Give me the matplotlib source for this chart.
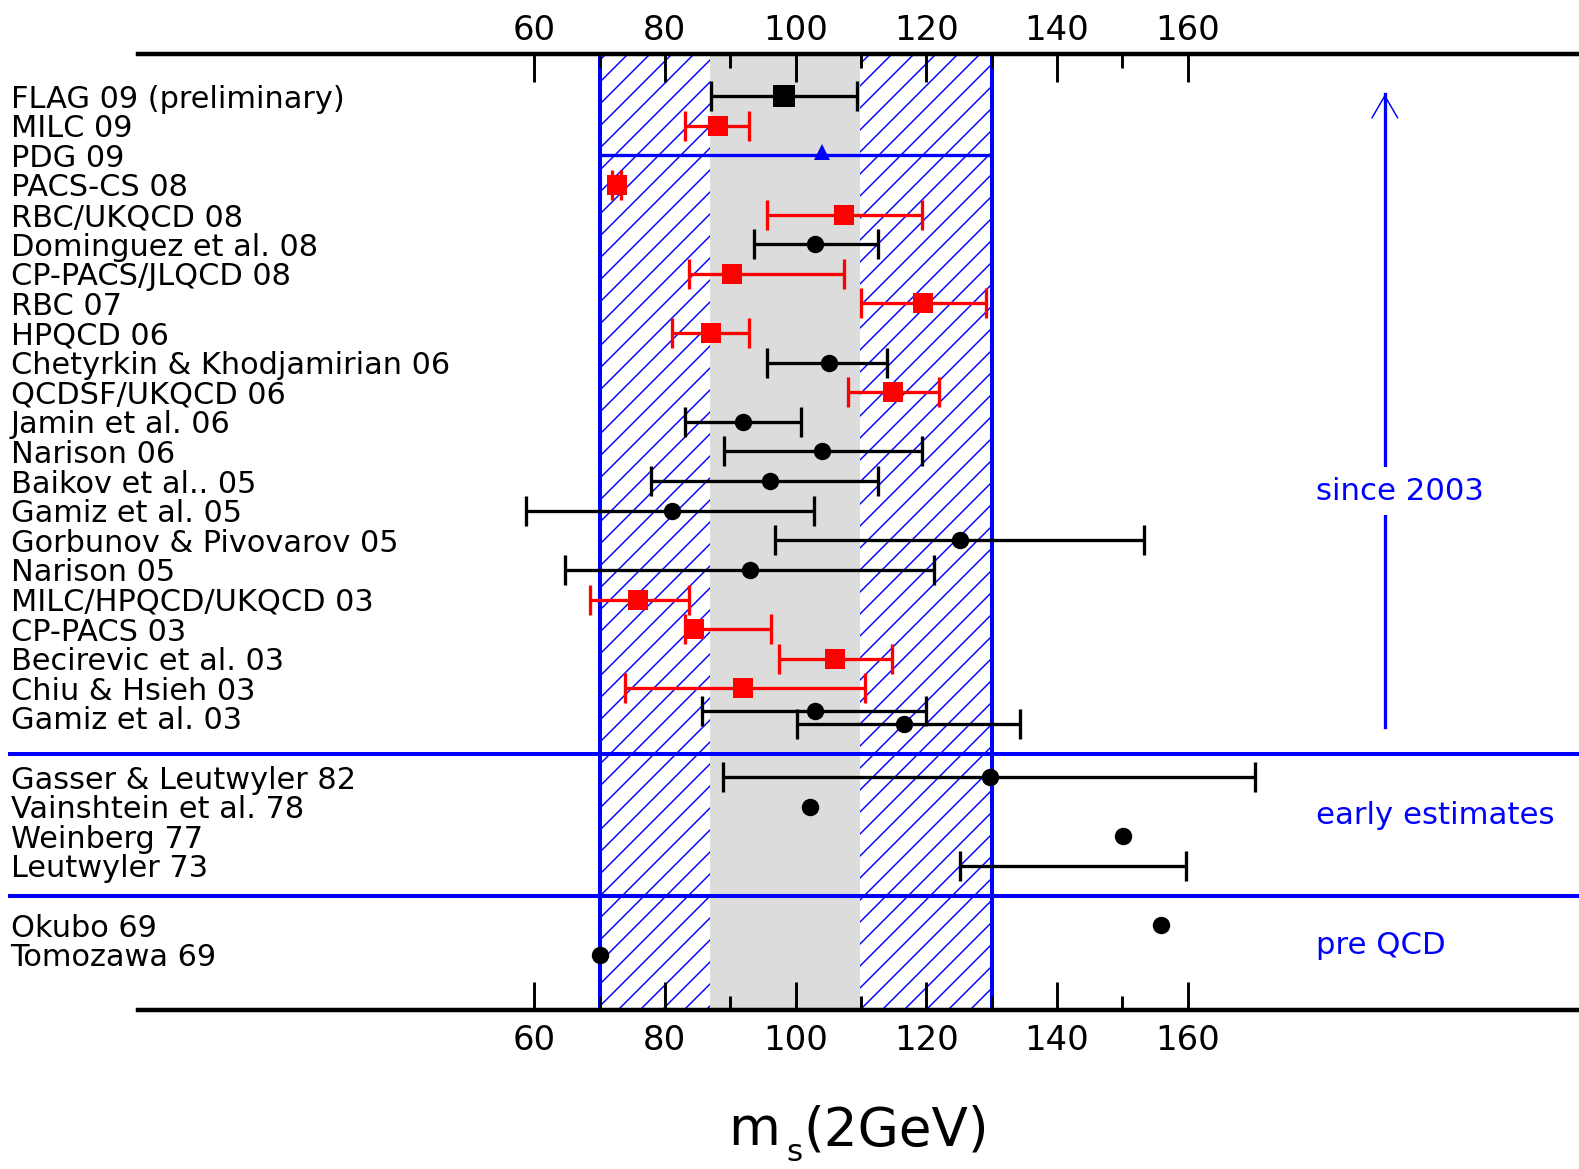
import numpy as np
import matplotlib.pyplot as plt
from matplotlib.transforms import blended_transform_factory

DPI = 132  # with '//' this gives the ~22 px hatch spacing of the original
plt.rcParams['hatch.linewidth'] = 0.8
plt.rcParams['font.family'] = ['DejaVu Sans']

# entries, top to bottom (row = slot index on the y axis)
labels = ['FLAG 09 (preliminary)', 'MILC 09', 'PDG 09', 'PACS-CS 08', 'RBC/UKQCD 08',
          'Dominguez et al. 08', 'CP-PACS/JLQCD 08', 'RBC 07', 'HPQCD 06',
          'Chetyrkin & Khodjamirian 06', 'QCDSF/UKQCD 06', 'Jamin et al. 06', 'Narison 06',
          'Baikov et al.. 05', 'Gamiz et al. 05', 'Gorbunov & Pivovarov 05', 'Narison 05',
          'MILC/HPQCD/UKQCD 03', 'CP-PACS 03', 'Becirevic et al. 03', 'Chiu & Hsieh 03',
          'Gamiz et al. 03', 'Gasser & Leutwyler 82', 'Vainshtein et al. 78', 'Weinberg 77',
          'Leutwyler 73', 'Okubo 69', 'Tomozawa 69']
label_rows = list(range(22)) + [23, 24, 25, 26, 28, 29]

# FLAG average
flag_row, flag_val, flag_lo, flag_hi = 0, 98.2, 87.1, 109.4

# PDG 09 range and central value
pdg_row, pdg_val, pdg_lo, pdg_hi = 2, 104.0, 70.0, 130.0

# lattice results (red squares)
lat_row = [1, 3, 4, 6, 7, 8, 10, 17, 18, 19, 20]
lat_val = [88.1, 72.7, 107.4, 90.3, 119.5, 87.0, 114.9, 75.9, 84.4, 106.1, 91.9]
lat_lo = [83.1, 71.9, 95.6, 83.7, 110.0, 81.1, 108.0, 68.6, 83.1, 97.5, 73.9]
lat_hi = [92.9, 73.3, 119.3, 107.4, 129.1, 92.9, 121.9, 83.7, 96.3, 114.7, 110.7]

# sum rules / other (black circles with error bars)
oth_row = [5, 9, 11, 12, 13, 14, 15, 16, 20.78, 21.2, 23]
oth_val = [103.0, 105.1, 92.0, 104.0, 96.1, 81.1, 125.1, 93.0, 103.0, 116.6, 129.7]
oth_lo = [93.6, 95.6, 83.1, 89.0, 77.9, 58.8, 96.9, 64.7, 85.7, 100.2, 88.9]
oth_hi = [112.6, 114.0, 100.9, 119.3, 112.6, 102.8, 153.4, 121.2, 119.9, 134.3, 170.4]

# estimates without error bars
bare_row = [24, 25, 28, 29]
bare_val = [102.2, 150.1, 156.0, 70.0]

# range only (Leutwyler 73)
range_row, range_lo, range_hi = 26, 125.1, 159.8

hatch_band = (70.0, 130.0)
grey_band = (86.9, 109.8)
group_breaks = [22.22, 27.0]
group_names = ['since 2003', 'early estimates', 'pre QCD']
group_y = [13.62, 24.58, 28.96]
major_ticks = [60, 80, 100, 120, 140, 160]
minor_ticks = [70, 90, 110, 130, 150]

W, H = 1579, 1169
fig = plt.figure(figsize=((W + 0.5) / DPI, (H + 0.5) / DPI), dpi=DPI)
ax = fig.add_axes([138 / W, 1 - 1010 / H, 1 - 138 / W, (1010 - 54) / H])
ax.set_xlim(-0.64, 220.0)
ax.set_ylim(30.86, -1.44)

# bands
ax.axvspan(*hatch_band, facecolor='white', edgecolor='blue', hatch='//', linewidth=0, zorder=0.5)
ax.axvspan(*grey_band, facecolor='#dcdcdc', edgecolor='none', zorder=0.6)
for xv in hatch_band:
    ax.axvline(xv, color='blue', lw=2.2, zorder=1)

# group separators running across the label column
tr_fig = blended_transform_factory(fig.transFigure, ax.transData)
for yb in group_breaks:
    ax.plot([10 / W, 1], [yb, yb], transform=tr_fig, color='blue', lw=2.2,
            clip_on=False, zorder=1.1)

# PDG
ax.hlines(pdg_row, pdg_lo, pdg_hi, colors='blue', lw=1.8, zorder=1.2)
ax.plot(pdg_val, pdg_row - 0.12, '^', color='blue', ms=8.5, markeredgewidth=0, zorder=3)


def bars(val, row, lo, hi, color):
    val = np.atleast_1d(np.asarray(val, float))
    err = [val - np.asarray(lo, float), np.asarray(hi, float) - val]
    ax.errorbar(val, row, xerr=err, fmt='none', ecolor=color, elinewidth=1.8,
                capsize=8.2, capthick=1.8, zorder=2.5)


bars(flag_val, [flag_row], [flag_lo], [flag_hi], 'black')
bars(lat_val, lat_row, lat_lo, lat_hi, 'red')
bars(oth_val, oth_row, oth_lo, oth_hi, 'black')
bars((range_lo + range_hi) / 2, [range_row], [range_lo], [range_hi], 'black')

ax.plot(flag_val, flag_row, 's', color='black', ms=11.5, markeredgewidth=0, zorder=3)
ax.plot(lat_val, lat_row, 's', color='red', ms=10.4, markeredgewidth=0, zorder=3)
ax.plot(oth_val, oth_row, 'o', color='black', ms=9.5, markeredgewidth=0, zorder=3)
ax.plot(bare_val, bare_row, 'o', color='black', ms=9.5, markeredgewidth=0, zorder=3)

# entry labels
for lab, r in zip(labels, label_rows):
    ax.text(0.0067, r + 0.37, lab, transform=tr_fig, fontsize=16.6,
            ha='left', va='baseline', color='black')

# right hand annotations and arrow
arrow_x, arrow_top, arrow_bottom = 190.2, -0.06, 21.3
ax.plot([arrow_x, arrow_x], [arrow_top, arrow_bottom], color='blue', lw=1.8, zorder=2)
ax.annotate('', xy=(arrow_x, arrow_top), xytext=(arrow_x, arrow_top + 1.5),
            arrowprops=dict(arrowstyle='->,head_length=1.2,head_width=0.7',
                            color='blue', lw=0.8, shrinkA=0, shrinkB=0), zorder=2)
for txt, yt in zip(group_names, group_y):
    box = dict(facecolor='white', edgecolor='none', boxstyle='square,pad=0.3') \
        if txt == 'since 2003' else None
    ax.text(179.7, yt, txt, color='blue', fontsize=16.8, ha='left', va='baseline',
            bbox=box, zorder=4)

# axes, ticks
for side in ('left', 'right'):
    ax.spines[side].set_visible(False)
for side in ('top', 'bottom'):
    ax.spines[side].set_linewidth(2.45)
ax.set_yticks([])
ax.set_xticks(major_ticks)
ax.set_xticks(minor_ticks, minor=True)
ax.tick_params(axis='x', which='both', direction='in', top=True, bottom=True,
               labeltop=False, labelbottom=True, width=1.6, labelsize=18.5, pad=7.6)
ax.tick_params(axis='x', which='major', length=15.3)
ax.tick_params(axis='x', which='minor', length=7.6)

sec = ax.secondary_xaxis('top')
sec.set_xticks(major_ticks)
sec.tick_params(axis='x', length=0, pad=3.8, labelsize=18.5)
for sp in sec.spines.values():
    sp.set_visible(False)

# x label m_s(2GeV)
fig.text(754 / W, 1 - 1145 / H, 'm', fontsize=29, ha='center', va='baseline')
fig.text(794 / W, 1 - 1167 / H, 's', fontsize=17, ha='center', va='bottom')
fig.text(803 / W, 1 - 1145 / H, '(2GeV)', fontsize=29, ha='left', va='baseline')

fig.savefig('out.png', dpi=DPI)
